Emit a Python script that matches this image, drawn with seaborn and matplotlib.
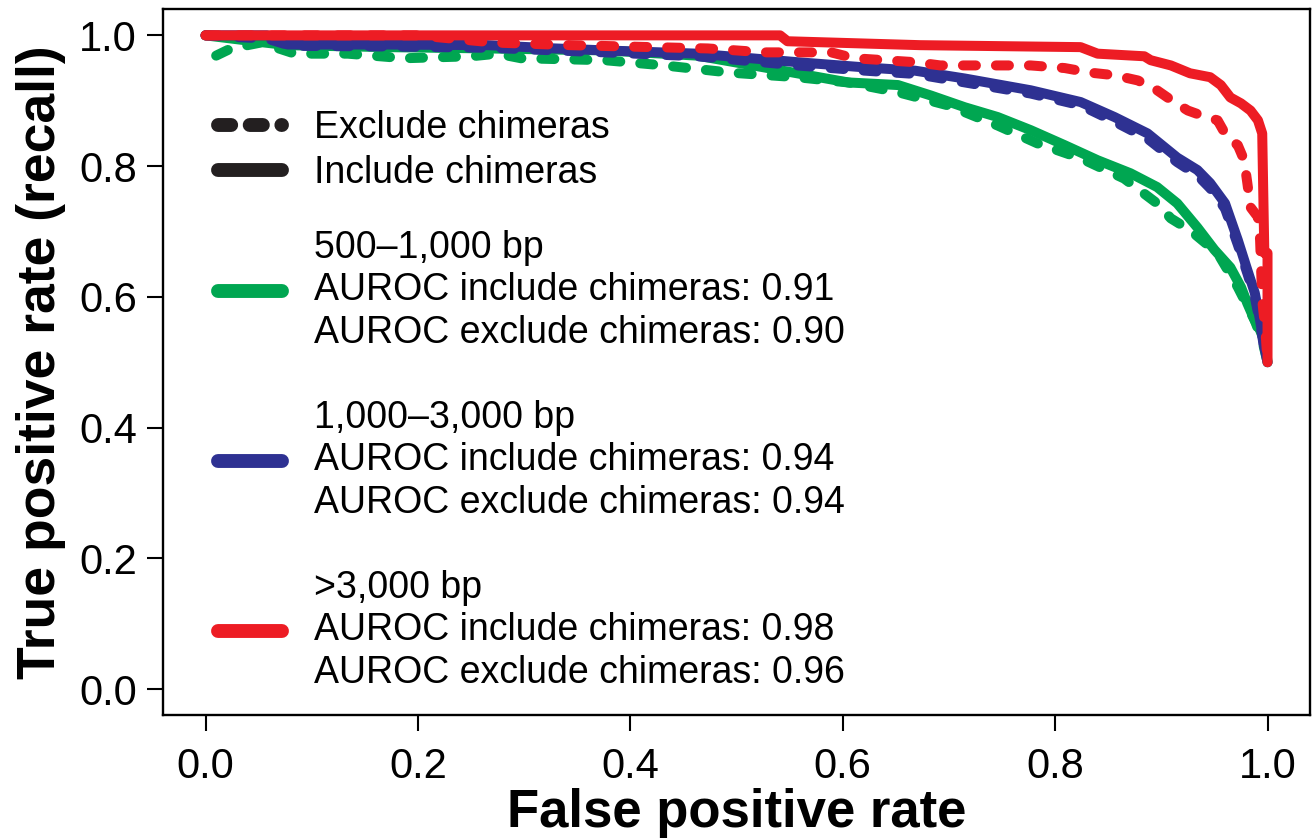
import matplotlib
matplotlib.use("Agg")
import matplotlib.pyplot as plt
from matplotlib.lines import Line2D
from matplotlib.legend import Legend
import seaborn as sns

# ---------------- data ----------------
green_inc_fpr = [0.0, 0.04, 0.077, 0.171, 0.266, 0.376, 0.463, 0.526, 0.557, 0.605, 0.652, 0.683,
                 0.715, 0.746, 0.777, 0.809, 0.840, 0.871, 0.896, 0.915, 0.934, 0.950, 0.965,
                 0.975, 0.981, 0.988, 0.993, 0.998, 1.0]
green_inc_tpr = [1.0, 0.992, 0.985, 0.982, 0.980, 0.977, 0.969, 0.951, 0.942, 0.928, 0.924, 0.908,
                 0.890, 0.875, 0.855, 0.832, 0.809, 0.789, 0.768, 0.743, 0.706, 0.672, 0.645,
                 0.615, 0.590, 0.564, 0.549, 0.529, 0.5]

green_exc_fpr = [0.010, 0.024, 0.052, 0.084, 0.134, 0.187, 0.250, 0.275, 0.297, 0.376, 0.432,
                 0.494, 0.557, 0.605, 0.652, 0.699, 0.746, 0.783, 0.824, 0.865, 0.896, 0.909,
                 0.927, 0.953, 0.972, 0.988, 0.995, 1.0]
green_exc_tpr = [0.969, 0.980, 0.989, 0.972, 0.972, 0.965, 0.968, 0.972, 0.965, 0.962, 0.954,
                 0.943, 0.936, 0.928, 0.913, 0.893, 0.862, 0.835, 0.812, 0.781, 0.743, 0.720,
                 0.702, 0.667, 0.615, 0.564, 0.534, 0.5]

blue_inc_fpr = [0.0, 0.058, 0.077, 0.171, 0.266, 0.329, 0.376, 0.463, 0.557, 0.621, 0.668, 0.715,
                0.777, 0.824, 0.856, 0.887, 0.915, 0.934, 0.946, 0.960, 0.972, 0.981, 0.988,
                0.993, 0.997, 1.0]
blue_inc_tpr = [1.0, 1.0, 0.986, 0.986, 0.985, 0.980, 0.977, 0.972, 0.959, 0.951, 0.946, 0.934,
                0.916, 0.898, 0.875, 0.850, 0.813, 0.794, 0.774, 0.743, 0.687, 0.641, 0.606,
                0.564, 0.523, 0.5]

blue_exc_fpr = [0.0, 0.058, 0.080, 0.171, 0.266, 0.376, 0.463, 0.557, 0.621, 0.668, 0.715, 0.777,
                0.824, 0.856, 0.887, 0.915, 0.934, 0.946, 0.960, 0.972, 0.981, 0.988, 0.993,
                0.997, 1.0]
blue_exc_tpr = [1.0, 0.995, 0.984, 0.983, 0.981, 0.974, 0.968, 0.954, 0.946, 0.941, 0.928, 0.911,
                0.893, 0.868, 0.842, 0.806, 0.786, 0.766, 0.735, 0.680, 0.636, 0.600, 0.560,
                0.520, 0.5]

red_inc_fpr = [0.0, 0.541, 0.548, 0.673, 0.824, 0.840, 0.884, 0.890, 0.909, 0.927, 0.946, 0.956,
               0.965, 0.975, 0.984, 0.991, 0.995, 0.997, 1.0, 1.0]
red_inc_tpr = [1.0, 1.0, 0.991, 0.985, 0.982, 0.972, 0.968, 0.962, 0.954, 0.942, 0.936, 0.924,
               0.905, 0.896, 0.885, 0.870, 0.850, 0.667, 0.667, 0.5]

red_exc_fpr = [0.0, 0.2, 0.272, 0.344, 0.473, 0.526, 0.589, 0.611, 0.668, 0.692, 0.777, 0.809,
               0.833, 0.856, 0.878, 0.896, 0.912, 0.925, 0.937, 0.953, 0.962, 0.972, 0.978,
               0.981, 0.984, 0.991, 0.993, 0.995, 0.998, 1.0]
red_exc_tpr = [1.0, 1.0, 0.989, 0.985, 0.980, 0.974, 0.974, 0.965, 0.959, 0.954, 0.954, 0.950,
               0.943, 0.939, 0.931, 0.916, 0.898, 0.885, 0.878, 0.870, 0.844, 0.832, 0.809,
               0.774, 0.737, 0.722, 0.687, 0.595, 0.549, 0.5]

x_ticks = [0.0, 0.2, 0.4, 0.6, 0.8, 1.0]
x_tick_labels = ["0.0", "0.2", "0.4", "0.6", "0.8", "1.0"]
y_ticks = [0.0, 0.2, 0.4, 0.6, 0.8, 1.0]
y_tick_labels = ["0.0", "0.2", "0.4", "0.6", "0.8", "1.0"]

group_titles = ["500\u20131,000 bp", "1,000\u20133,000 bp", ">3,000 bp"]
auroc_include = ["0.91", "0.94", "0.98"]
auroc_exclude = ["0.90", "0.94", "0.96"]
style_labels = ["Exclude chimeras", "Include chimeras"]

GREEN = "#00A651"
BLUE = "#2E3192"
RED = "#ED1C24"

# ---------------- style ----------------
sns.set_style("white")
plt.rcParams["font.family"] = ["Liberation Sans", "DejaVu Sans"]

fig = plt.figure(figsize=(13.15, 8.38), dpi=100)
ax = fig.add_axes([0.1240, 0.1465, 0.8722, 0.8425])

LW = 7.2
DASH = (1.3, 2.0)

series = [
    (green_inc_fpr, green_inc_tpr, GREEN, False),
    (green_exc_fpr, green_exc_tpr, GREEN, True),
    (blue_inc_fpr, blue_inc_tpr, BLUE, False),
    (blue_exc_fpr, blue_exc_tpr, BLUE, True),
    (red_inc_fpr, red_inc_tpr, RED, False),
    (red_exc_fpr, red_exc_tpr, RED, True),
]
for fpr, tpr, col, dashed in series:
    sns.lineplot(x=fpr, y=tpr, ax=ax, color=col, linewidth=LW,
                 estimator=None, sort=False, legend=False)
    ln = ax.lines[-1]
    ln.set_solid_capstyle("round")
    ln.set_solid_joinstyle("round")
    ln.set_dash_capstyle("round")
    ln.set_dash_joinstyle("round")
    if dashed:
        ln.set_linestyle((0, DASH))

ax.set_xlim(-0.04, 1.04)
ax.set_ylim(-0.04, 1.04)
ax.set_xticks(x_ticks)
ax.set_xticklabels(x_tick_labels)
ax.set_yticks(y_ticks)
ax.set_yticklabels(y_tick_labels)
ax.tick_params(axis="x", direction="out", length=11.5, width=1.5, pad=11.5,
               labelsize=30, bottom=True, color="black", labelcolor="black")
ax.tick_params(axis="y", direction="out", length=11.5, width=1.5, pad=7.4,
               labelsize=30, left=True, color="black", labelcolor="black")
for sp in ax.spines.values():
    sp.set_visible(True)
    sp.set_color("black")
    sp.set_linewidth(1.7)

ax.set_xlabel("False positive rate", fontsize=38, fontweight="bold", color="black")
ax.set_ylabel("True positive rate (recall)", fontsize=38.5, fontweight="bold", color="black")
ax.xaxis.set_label_coords(0.5, -0.1025)
ax.yaxis.set_label_coords(-0.0846, 0.5)

# ---------------- legend ----------------
HLW = 10.0
h_exc = Line2D([], [], color="#231F20", linewidth=HLW, linestyle=(0, (0.95, 1.33)),
               dash_capstyle="round", solid_capstyle="round")
h_inc = Line2D([], [], color="#231F20", linewidth=HLW, solid_capstyle="round")
h_cols = [Line2D([], [], color=c, linewidth=HLW, solid_capstyle="round") for c in (GREEN, BLUE, RED)]

entries = [(h_exc, style_labels[0], 0.8317), (h_inc, style_labels[1], 0.7680)]
for h, title, ai, ae, yc in zip(h_cols, group_titles, auroc_include, auroc_exclude,
                                [0.6020, 0.3612, 0.1204]):
    lab = f"{title}\nAUROC include chimeras: {ai}\nAUROC exclude chimeras: {ae}"
    entries.append((h, lab, yc))

for h, lab, yc in entries:
    leg = Legend(ax, [h], [lab], loc="center left", bbox_to_anchor=(0.0475, yc),
                 bbox_transform=ax.transAxes, frameon=False, borderpad=0,
                 borderaxespad=0, handlelength=1.73, handletextpad=0.84,
                 prop={"size": 27})
    for t in leg.get_texts():
        t.set_linespacing(1.23)
        t.set_color("black")
    ax.add_artist(leg)

fig.savefig("out.png", dpi=100)
